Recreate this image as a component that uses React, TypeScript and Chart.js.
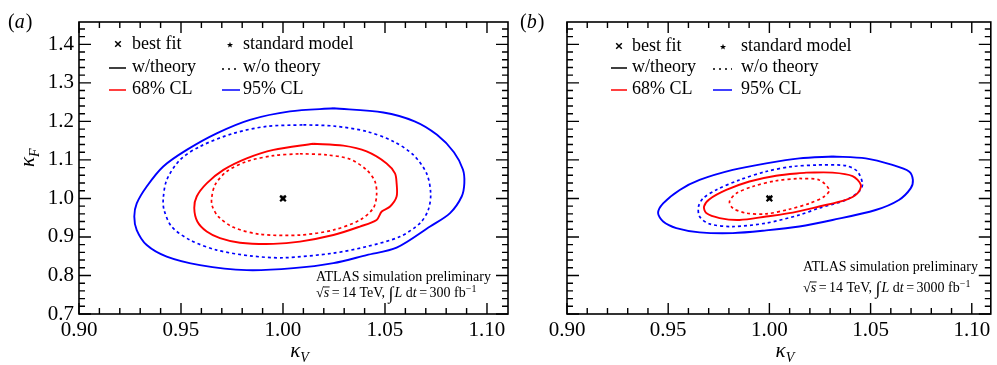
import React, { useEffect, useRef } from "react";
import { Chart, registerables } from "chart.js";
Chart.register(...registerables);

// ---------- axis ticks ----------
const xTickValues = [0.9, 0.95, 1.0, 1.05, 1.1];
const yTickValues = [0.7, 0.8, 0.9, 1.0, 1.1, 1.2, 1.3, 1.4];
const xMinorStep = 0.01;
const yMinorStep = 0.02;

// ---------- markers ----------
const bestFit: [number, number][] = [[1.0, 1.0]];
const standardModel: [number, number][] = [[1.0, 1.0]];

// ---------- panel (a): 300 fb^-1 contours [kappaV, kappaF] ----------
const a95Theory: [number, number][] = [
  [1.0247, 1.234], [1.0492, 1.223], [1.0645, 1.2], [1.0755, 1.165], [1.0838, 1.12], [1.0882, 1.075],
  [1.0889, 1.04], [1.0876, 1.005], [1.0819, 0.962], [1.0721, 0.927], [1.0557, 0.872], [1.041, 0.853],
  [1.0247, 0.832], [1.0051, 0.819], [0.9822, 0.814], [0.9593, 0.827], [0.943, 0.849], [0.9332, 0.879],
  [0.9283, 0.918], [0.9271, 0.953], [0.9283, 0.987], [0.9332, 1.031], [0.9413, 1.083], [0.9528, 1.126],
  [0.9675, 1.169], [0.9838, 1.204], [1.0034, 1.226],
];
const a95NoTheory: [number, number][] = [
  [1.01, 1.191], [1.0247, 1.188], [1.041, 1.174], [1.0541, 1.148], [1.0639, 1.113], [1.0704, 1.065],
  [1.0724, 1.013], [1.0712, 0.97], [1.0672, 0.936], [1.0574, 0.901], [1.041, 0.875], [1.0247, 0.858],
  [1.0002, 0.846], [0.9838, 0.851], [0.9675, 0.866], [0.9544, 0.892], [0.9454, 0.927], [0.9417, 0.97],
  [0.9413, 0.999], [0.943, 1.048], [0.9495, 1.1], [0.9593, 1.135], [0.9757, 1.169], [0.992, 1.187],
];
const a68Theory: [number, number][] = [
  [1.0149, 1.142], [1.0296, 1.137], [1.041, 1.122], [1.0508, 1.091], [1.0549, 1.065], [1.0557, 1.039],
  [1.0557, 1.005], [1.0525, 0.979], [1.0484, 0.966], [1.0459, 0.944], [1.0377, 0.927], [1.0247, 0.905],
  [1.0083, 0.888], [0.9953, 0.882], [0.9789, 0.885], [0.9691, 0.897], [0.9626, 0.914], [0.958, 0.94],
  [0.9565, 0.975], [0.9577, 1.005], [0.9626, 1.039], [0.9708, 1.074], [0.9822, 1.104], [0.9953, 1.126],
];
const a68NoTheory: [number, number][] = [
  [1.0083, 1.116], [1.0214, 1.113], [1.0328, 1.102], [1.041, 1.074], [1.0451, 1.044], [1.0459, 1.009],
  [1.0443, 0.975], [1.0377, 0.944], [1.0247, 0.918], [1.0083, 0.905], [0.9887, 0.907], [0.9757, 0.925],
  [0.9683, 0.953], [0.9654, 0.979], [0.965, 0.999], [0.9667, 1.035], [0.9724, 1.07], [0.9822, 1.096],
  [0.9953, 1.111],
];

// ---------- panel (b): 3000 fb^-1 contours ----------
const b95Theory: [number, number][] = [
  [1.0312, 1.109], [1.0476, 1.104], [1.0608, 1.087], [1.069, 1.07], [1.0709, 1.048], [1.0698, 1.026],
  [1.064, 0.996], [1.0525, 0.97], [1.0312, 0.944], [1.0148, 0.927], [0.9984, 0.917], [0.9819, 0.91],
  [0.9655, 0.912], [0.954, 0.923], [0.9475, 0.94], [0.945, 0.962], [0.9475, 0.987], [0.9557, 1.022],
  [0.9655, 1.048], [0.9819, 1.074], [0.9984, 1.091], [1.0148, 1.104],
];
const b95NoTheory: [number, number][] = [
  [1.0246, 1.087], [1.0378, 1.085], [1.0435, 1.07], [1.046, 1.037], [1.0443, 1.018], [1.0378, 0.996],
  [1.0246, 0.975], [1.0148, 0.957], [0.9984, 0.936], [0.9819, 0.927], [0.9704, 0.934], [0.9655, 0.953],
  [0.965, 0.979], [0.9672, 1.0], [0.9737, 1.022], [0.9852, 1.048], [0.9984, 1.07], [1.0115, 1.083],
];
const b68Theory: [number, number][] = [
  [1.0181, 1.067], [1.0312, 1.067], [1.0411, 1.058], [1.0452, 1.035], [1.0435, 1.013], [1.0378, 0.996],
  [1.0246, 0.979], [1.0115, 0.963], [0.9984, 0.953], [0.9852, 0.944], [0.9754, 0.949], [0.9688, 0.962],
  [0.9677, 0.979], [0.9704, 0.998], [0.9787, 1.022], [0.9901, 1.044], [1.0033, 1.059],
];
const b68NoTheory: [number, number][] = [
  [1.0148, 1.052], [1.0246, 1.048], [1.0296, 1.022], [1.0271, 1.005], [1.0197, 0.987], [1.0099, 0.972],
  [0.9984, 0.96], [0.9885, 0.962], [0.9819, 0.975], [0.9803, 0.992], [0.9836, 1.013], [0.9918, 1.031],
  [1.0033, 1.046],
];

// ---------- text ----------
const legendLabels = ["best fit", "standard model", "w/theory", "w/o theory", "68% CL", "95% CL"];
const annotationTitle = "ATLAS simulation preliminary";

const RED = "#ff0000";
const BLUE = "#0000ff";
const SERIF = "'Liberation Serif', 'Times New Roman', serif";
Chart.defaults.font.family = SERIF;

const closed = (arr: [number, number][]) =>
  [...arr, arr[0]].map(([x, y]) => ({ x, y }));

function starPath(ctx: CanvasRenderingContext2D, cx: number, cy: number, r: number) {
  ctx.beginPath();
  for (let i = 0; i < 10; i++) {
    const rr = i % 2 === 0 ? r : r * 0.42;
    const a = -Math.PI / 2 + (i * Math.PI) / 5;
    const px = cx + rr * Math.cos(a);
    const py = cy + rr * Math.sin(a);
    if (i === 0) ctx.moveTo(px, py);
    else ctx.lineTo(px, py);
  }
  ctx.closePath();
  ctx.fill();
}

function makeStarCanvas(r: number) {
  const c = document.createElement("canvas");
  c.width = c.height = Math.ceil(2 * r + 2);
  const g = c.getContext("2d")!;
  g.fillStyle = "#000";
  starPath(g, c.width / 2, c.height / 2, r);
  return c;
}

function drawCross(ctx: CanvasRenderingContext2D, cx: number, cy: number, h: number) {
  ctx.beginPath();
  ctx.moveTo(cx - h, cy - h);
  ctx.lineTo(cx + h, cy + h);
  ctx.moveTo(cx + h, cy - h);
  ctx.lineTo(cx - h, cy + h);
  ctx.stroke();
}

type Run = { t: string; font: string; dy?: number; over?: boolean; gap?: number };
function drawRuns(ctx: CanvasRenderingContext2D, x: number, y: number, runs: Run[]) {
  let cx = x;
  for (const r of runs) {
    cx += r.gap || 0;
    ctx.font = r.font;
    ctx.fillText(r.t, cx, y + (r.dy || 0));
    const w = ctx.measureText(r.t).width;
    if (r.over) ctx.fillRect(cx - 0.5, y - 10.5, w + 1, 0.9);
    cx += w;
  }
}

type Panel = {
  label: string;
  lumi: string;
  c95t: [number, number][];
  c95n: [number, number][];
  c68t: [number, number][];
  c68n: [number, number][];
  showY: boolean;
  yW: number;
  padR: number;
  xMax: number;
  labelX: number;
  leg: { cross: number; star: number; line1: [number, number]; line2: [number, number]; t1: number; t2: number; rows: [number, number, number] };
  ann: { x: number; y1: number; y2: number };
};

function makeChart(canvas: HTMLCanvasElement, p: Panel) {
  const star = makeStarCanvas(3.5);
  const framePlugin = {
    id: "frame",
    afterDraw(chart: any) {
      const { ctx, chartArea } = chart;
      const { left, right, top, bottom } = chartArea;
      const xs = chart.scales.x;
      const ys = chart.scales.y;
      ctx.save();
      ctx.strokeStyle = "#000";
      ctx.fillStyle = "#000";
      ctx.lineWidth = 1.6;
      ctx.strokeRect(left, top, right - left, bottom - top);
      ctx.lineWidth = 1.4;
      ctx.beginPath();
      for (let i = 0; ; i++) {
        const v = 0.9 + i * xMinorStep;
        const px = xs.getPixelForValue(v);
        if (px > right - 1) break;
        const L = i % 5 === 0 ? 11 : 6;
        ctx.moveTo(px, bottom);
        ctx.lineTo(px, bottom - L);
        ctx.moveTo(px, top);
        ctx.lineTo(px, top + L);
      }
      for (let i = 0; ; i++) {
        const v = 0.7 + i * yMinorStep;
        const py = ys.getPixelForValue(v);
        if (py < top + 1) break;
        const L = i % 5 === 0 ? 12 : 6;
        ctx.moveTo(left, py);
        ctx.lineTo(left + L, py);
        ctx.moveTo(right, py);
        ctx.lineTo(right - L, py);
      }
      ctx.stroke();

      // legend
      const lg = p.leg;
      const [r1, r2, r3] = lg.rows;
      ctx.lineWidth = 1.5;
      drawCross(ctx, lg.cross, r1, 2.8);
      starPath(ctx, lg.star, r1 + 1, 3.2);
      ctx.font = `18px ${SERIF}`;
      ctx.textBaseline = "middle";
      ctx.textAlign = "left";
      ctx.fillText(legendLabels[0], lg.t1, r1);
      ctx.fillText(legendLabels[1], lg.t2, r1);
      ctx.fillText(legendLabels[2], lg.t1, r2);
      ctx.fillText(legendLabels[3], lg.t2, r2);
      ctx.fillText(legendLabels[4], lg.t1, r3);
      ctx.fillText(legendLabels[5], lg.t2, r3);
      const seg = (x0: number, x1: number, y: number, col: string, dash: number[]) => {
        ctx.strokeStyle = col;
        ctx.setLineDash(dash);
        ctx.beginPath();
        ctx.moveTo(x0, y);
        ctx.lineTo(x1, y);
        ctx.stroke();
        ctx.setLineDash([]);
      };
      seg(lg.line1[0], lg.line1[1], r2 + 1, "#000", []);
      seg(lg.line2[0], lg.line2[1], r2 + 2, "#000", [2, 4]);
      seg(lg.line1[0], lg.line1[1], r3 + 1, RED, []);
      seg(lg.line2[0], lg.line2[1], r3 + 1, BLUE, []);

      // annotation
      ctx.fillStyle = "#000";
      ctx.textBaseline = "alphabetic";
      const f = `14px ${SERIF}`;
      const fi = `italic 14px ${SERIF}`;
      ctx.font = f;
      ctx.fillText(annotationTitle, p.ann.x, p.ann.y1);
      drawRuns(ctx, p.ann.x, p.ann.y2, [
        { t: "\u221A", font: f },
        { t: "s", font: fi, over: true },
        { t: "=", font: f, gap: 2.5 },
        { t: "14 TeV, ", font: f, gap: 2.5 },
        { t: "\u222B", font: `18px ${SERIF}`, dy: 2 },
        { t: "L", font: fi, gap: 1 },
        { t: " d", font: f },
        { t: "t", font: fi },
        { t: "=", font: f, gap: 2.5 },
        { t: p.lumi + " fb", font: f, gap: 2.5 },
        { t: "\u22121", font: `10px ${SERIF}`, dy: -5 },
      ]);

      // panel label
      drawRuns(ctx, p.labelX, 28, [
        { t: "(", font: `20px ${SERIF}` },
        { t: p.label, font: `italic 20px ${SERIF}` },
        { t: ")", font: `20px ${SERIF}`, gap: 1 },
      ]);

      // x title
      const cxm = (left + right) / 2 + 6;
      ctx.font = `italic 21px ${SERIF}`;
      const kw = ctx.measureText("\u03BA").width;
      ctx.font = `italic 14px ${SERIF}`;
      const vw = ctx.measureText("V").width;
      drawRuns(ctx, cxm - (kw + vw) / 2, 357, [
        { t: "\u03BA", font: `italic 21px ${SERIF}` },
        { t: "V", font: `italic 14px ${SERIF}`, dy: 5 },
      ]);

      // y title
      if (p.showY) {
        ctx.save();
        ctx.translate(34, 167);
        ctx.rotate(-Math.PI / 2);
        drawRuns(ctx, 0, 0, [
          { t: "\u03BA", font: `italic 21px ${SERIF}` },
          { t: "F", font: `italic 14px ${SERIF}`, dy: 5 },
        ]);
        ctx.restore();
      }
      ctx.restore();
    },
  };

  const contour = (arr: [number, number][], col: string, dashed: boolean) => ({
    data: closed(arr),
    showLine: true,
    borderColor: col,
    borderWidth: dashed ? 1.7 : 1.9,
    borderDash: dashed ? [3, 3] : [],
    pointRadius: 0,
    tension: 0.3,
    fill: false,
  });

  return new Chart(canvas, {
    type: "scatter",
    data: {
      datasets: [
        {
          data: bestFit.map(([x, y]) => ({ x, y })),
          pointStyle: "crossRot",
          pointRadius: 4,
          borderColor: "#000",
          borderWidth: 2.2,
          showLine: false,
        } as any,
        {
          data: standardModel.map(([x, y]) => ({ x, y })),
          pointStyle: star,
          showLine: false,
        } as any,
        contour(p.c68n, RED, true),
        contour(p.c68t, RED, false),
        contour(p.c95n, BLUE, true),
        contour(p.c95t, BLUE, false),
      ],
    },
    options: {
      responsive: false,
      animation: false,
      layout: { padding: { left: 0, right: p.padR, top: 22, bottom: 0 } },
      plugins: { legend: { display: false }, tooltip: { enabled: false } },
      events: [],
      scales: {
        x: {
          type: "linear",
          min: 0.9,
          max: p.xMax,
          grid: { display: false, drawTicks: false },
          border: { display: false },
          afterBuildTicks: (s: any) => {
            s.ticks = xTickValues.map((v) => ({ value: v }));
          },
          afterFit: (s: any) => {
            s.height = 51;
          },
          ticks: {
            font: { family: SERIF, size: 21 },
            color: "#000",
            padding: 4,
            maxRotation: 0,
            autoSkip: false,
            callback: (v: any) => Number(v).toFixed(2),
          },
        },
        y: {
          type: "linear",
          min: 0.7,
          max: 1.458,
          grid: { display: false, drawTicks: false },
          border: { display: false },
          afterBuildTicks: (s: any) => {
            s.ticks = yTickValues.map((v) => ({ value: v }));
          },
          afterFit: (s: any) => {
            s.width = p.yW;
          },
          ticks: {
            display: p.showY,
            font: { family: SERIF, size: 21 },
            color: "#000",
            padding: 5,
            autoSkip: false,
            callback: (v: any) => Number(v).toFixed(1),
          },
        },
      },
    } as any,
    plugins: [framePlugin],
  });
}

const panelA: Panel = {
  label: "a",
  lumi: "300",
  c95t: a95Theory,
  c95n: a95NoTheory,
  c68t: a68Theory,
  c68n: a68NoTheory,
  showY: true,
  yW: 79,
  padR: 7,
  xMax: 1.1103,
  labelX: 8,
  leg: { cross: 118, star: 230, line1: [109, 126], line2: [222, 240], t1: 132, t2: 243, rows: [44, 67, 89] },
  ann: { x: 316, y1: 281, y2: 297 },
};

const panelB: Panel = {
  label: "b",
  lumi: "3000",
  c95t: b95Theory,
  c95n: b95NoTheory,
  c68t: b68Theory,
  c68n: b68NoTheory,
  showY: false,
  yW: 52,
  padR: 5,
  xMax: 1.1094,
  labelX: 5,
  leg: { cross: 104, star: 208, line1: [96, 112], line2: [198, 217], t1: 117, t2: 226, rows: [46, 67, 89] },
  ann: { x: 288, y1: 271, y2: 292 },
};

export default function App() {
  const refA = useRef<HTMLCanvasElement>(null);
  const refB = useRef<HTMLCanvasElement>(null);
  useEffect(() => {
    const ca = makeChart(refA.current!, panelA);
    const cb = makeChart(refB.current!, panelB);
    return () => {
      ca.destroy();
      cb.destroy();
    };
  }, []);
  return (
    <div style={{ position: "absolute", left: 0, top: 0, width: 997, height: 365, background: "#fff" }}>
      <canvas ref={refA} width={515} height={365} style={{ position: "absolute", left: 0, top: 0 }} />
      <canvas ref={refB} width={482} height={365} style={{ position: "absolute", left: 515, top: 0 }} />
    </div>
  );
}
